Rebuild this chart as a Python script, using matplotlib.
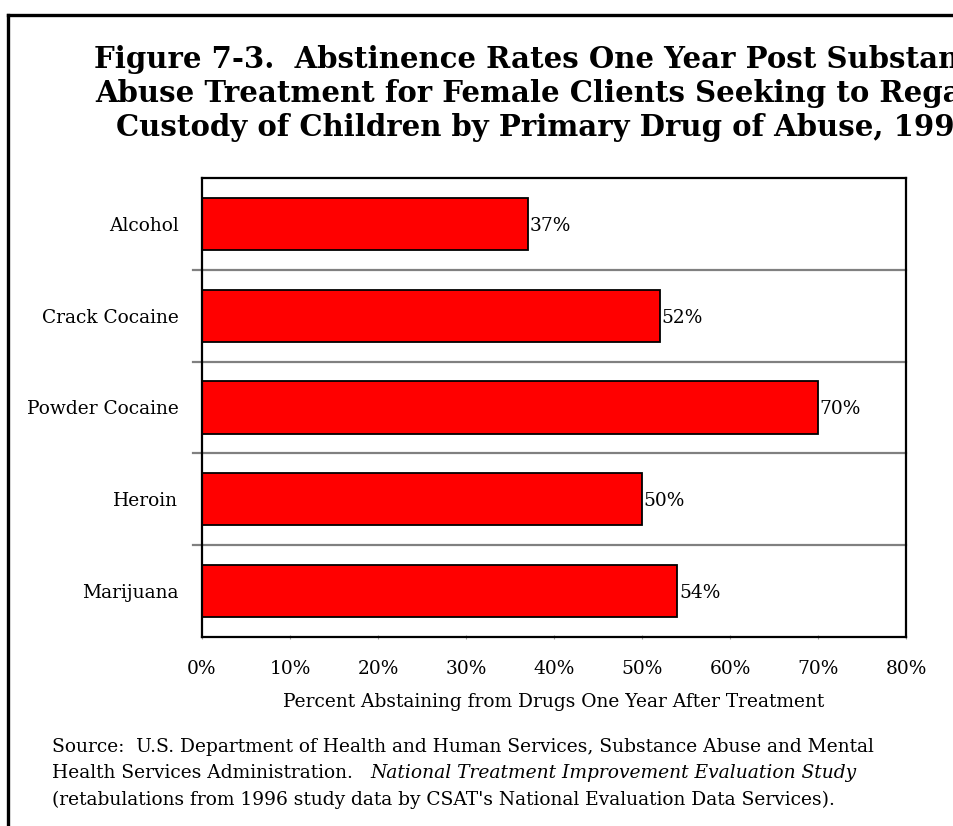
import matplotlib
matplotlib.use("Agg")
import matplotlib.pyplot as plt
from matplotlib.lines import Line2D

drugs = ["Alcohol", "Crack Cocaine", "Powder Cocaine", "Heroin", "Marijuana"]
rates = [37, 52, 70, 50, 54]
ticks = [0, 10, 20, 30, 40, 50, 60, 70, 80]
tick_labels = ["%d%%" % t for t in ticks]

title_lines = [
    "Figure 7-3.  Abstinence Rates One Year Post Substance",
    "Abuse Treatment for Female Clients Seeking to Regain",
    "Custody of Children by Primary Drug of Abuse, 1996",
]
xlabel = "Percent Abstaining from Drugs One Year After Treatment"
source_lines = [
    "Source:  U.S. Department of Health and Human Services, Substance Abuse and Mental",
    "Health Services Administration.   ",
    "(retabulations from 1996 study data by CSAT's National Evaluation Data Services).",
]
source_italic = "National Treatment Improvement Evaluation Study"

W, H = 954, 826
fig = plt.figure(figsize=(W / 100, H / 100), dpi=100)
serif = ["DejaVu Serif"]
fs = 13.4

def fx(px):
    return px / W

def fy(py):
    return 1 - py / H

# outer frame (cut off at right and bottom, as in the original)
fig.add_artist(Line2D([fx(8.5), 1.01], [fy(14.5), fy(14.5)], color="black", lw=2.4))
fig.add_artist(Line2D([fx(8.5), fx(8.5)], [fy(14.5), -0.01], color="black", lw=2.4))

ax = fig.add_axes([fx(202), fy(637), fx(906) - fx(202), fy(178) - fy(637)])
y = list(range(len(drugs)))
ax.barh(y, rates, height=0.57, color="#ff0000", edgecolor="black", linewidth=1.3)
ax.set_xlim(0, 80)
ax.set_ylim(len(drugs) - 0.5, -0.5)

# gray separators between categories
for k in range(1, len(drugs)):
    ax.plot([-1.0, 80], [k - 0.5, k - 0.5], color="#808080", lw=1.6,
            clip_on=False, zorder=1)

for i, v in enumerate(rates):
    ax.text(v + 0.2, i, "%d%%" % v, va="center_baseline", ha="left",
            fontsize=fs, family=serif)

ax.set_yticks(y)
ax.set_yticklabels(drugs, family=serif, fontsize=fs)
ax.tick_params(axis="y", length=0, pad=17)
ax.set_xticks(ticks)
ax.set_xticklabels(tick_labels, family=serif, fontsize=fs)
ax.tick_params(axis="x", length=3, direction="inout", color="#a0a0a0", pad=15)
for s in ax.spines.values():
    s.set_linewidth(1.6)
ax.set_xlabel(xlabel, family=serif, fontsize=fs, labelpad=11)

for i, line in enumerate(title_lines):
    fig.text(fx(545), fy(60 + 34 * i), line, ha="center", va="center",
             fontsize=21, fontweight="bold", family=serif)

fig.text(fx(52), fy(747), source_lines[0], ha="left", va="center",
         fontsize=fs, family=serif)
src2 = fig.text(fx(52), fy(773), source_lines[1], ha="left", va="center",
                fontsize=fs, family=serif)
ax.annotate(source_italic, xy=(1, 0), xycoords=src2, ha="left", va="bottom",
            fontsize=fs, family=serif, style="italic", annotation_clip=False)
fig.text(fx(52), fy(800), source_lines[2], ha="left", va="center",
         fontsize=fs, family=serif)

fig.savefig("out.png", dpi=100)
